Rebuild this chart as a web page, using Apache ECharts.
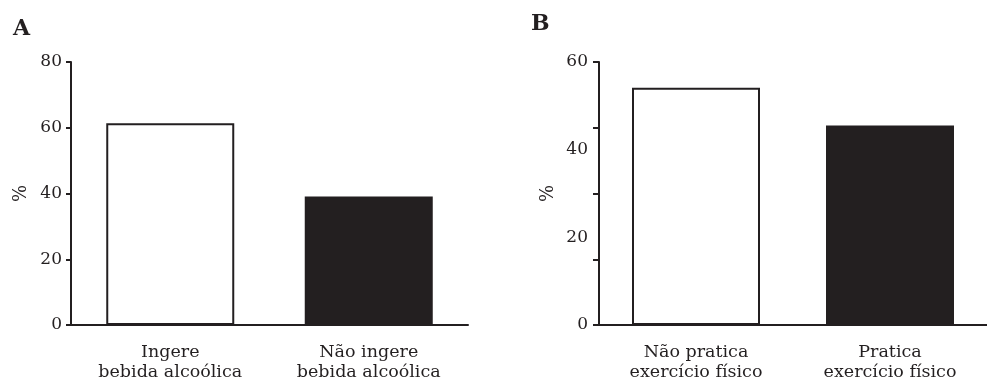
<!DOCTYPE html>
<html>
<head>
<meta charset="utf-8">
<script src="https://cdn.jsdelivr.net/npm/echarts@6/dist/echarts.min.js"></script>
<style>html,body{margin:0;padding:0;background:#fff}#c{width:987px;height:384px}</style>
</head>
<body>
<div id="c"></div>
<script>
// Panel A
const catsA = ['Ingere\nbebida alcoólica', 'Não ingere\nbebida alcoólica'];
const valsA = [61.4, 39.1];
const yMaxA = 80, yStepA = 20;
// Panel B
const catsB = ['Não pratica\nexercício físico', 'Pratica\nexercício físico'];
const valsB = [54.1, 45.5];
const yMaxB = 60, yTickStepB = 15, yLabelStepB = 20;
const yName = '%';
const panelTitles = ['A', 'B'];

const ink = '#231f20';
const fills = ['#ffffff', ink];
const font = 'DejaVu Serif';

function barData(vals) {
  return vals.map((v, i) => ({
    value: v,
    itemStyle: { color: fills[i], borderColor: ink, borderWidth: 2 }
  }));
}
function xAxis(cats, gi) {
  return {
    type: 'category', gridIndex: gi, data: cats,
    axisLine: { lineStyle: { color: ink, width: 2 } },
    axisTick: { alignWithLabel: true, length: 6, lineStyle: { color: ink, width: 2 } },
    axisLabel: { color: ink, fontFamily: font, fontSize: 17.5, lineHeight: 20, margin: 17 }
  };
}

const chart = echarts.init(document.getElementById('c'), null, { renderer: 'canvas' });
chart.setOption({
  animation: false,
  title: [
    { text: panelTitles[0], left: 8, top: 13, textStyle: { fontFamily: font, fontWeight: 'bold', fontSize: 22, color: ink } },
    { text: panelTitles[1], left: 526, top: 8, textStyle: { fontFamily: font, fontWeight: 'bold', fontSize: 22, color: ink } }
  ],
  grid: [
    { left: 71, top: 62, bottom: 59, width: 397 },
    { left: 599, top: 62, bottom: 59, width: 393 }
  ],
  xAxis: [xAxis(catsA, 0), xAxis(catsB, 1)],
  yAxis: [
    {
      type: 'value', gridIndex: 0, min: 0, max: yMaxA, interval: yStepA,
      name: yName, nameLocation: 'middle', nameGap: 41, nameRotate: 90,
      nameTextStyle: { color: ink, fontFamily: font, fontSize: 18 },
      axisLine: { show: true, lineStyle: { color: ink, width: 2 } },
      axisTick: { show: true, length: 5, lineStyle: { color: ink, width: 2 } },
      axisLabel: { color: ink, fontFamily: font, fontSize: 17, margin: 9 },
      splitLine: { show: false }
    },
    {
      type: 'value', gridIndex: 1, min: 0, max: yMaxB, interval: yTickStepB,
      name: yName, nameLocation: 'middle', nameGap: 42, nameRotate: 90,
      nameTextStyle: { color: ink, fontFamily: font, fontSize: 18 },
      axisLine: { show: true, lineStyle: { color: ink, width: 2 } },
      axisTick: { show: true, length: 6, lineStyle: { color: ink, width: 2 } },
      axisLabel: { show: false },
      splitLine: { show: false }
    },
    {
      type: 'value', gridIndex: 1, min: 0, max: yMaxB, interval: yLabelStepB,
      position: 'left', offset: 0,
      axisLine: { show: false }, axisTick: { show: false },
      axisLabel: { color: ink, fontFamily: font, fontSize: 17, margin: 11 },
      splitLine: { show: false }
    }
  ],
  series: [
    { type: 'bar', xAxisIndex: 0, yAxisIndex: 0, data: barData(valsA), barWidth: 128 },
    { type: 'bar', xAxisIndex: 1, yAxisIndex: 1, data: barData(valsB), barWidth: 128 }
  ]
});
</script>
</body>
</html>
